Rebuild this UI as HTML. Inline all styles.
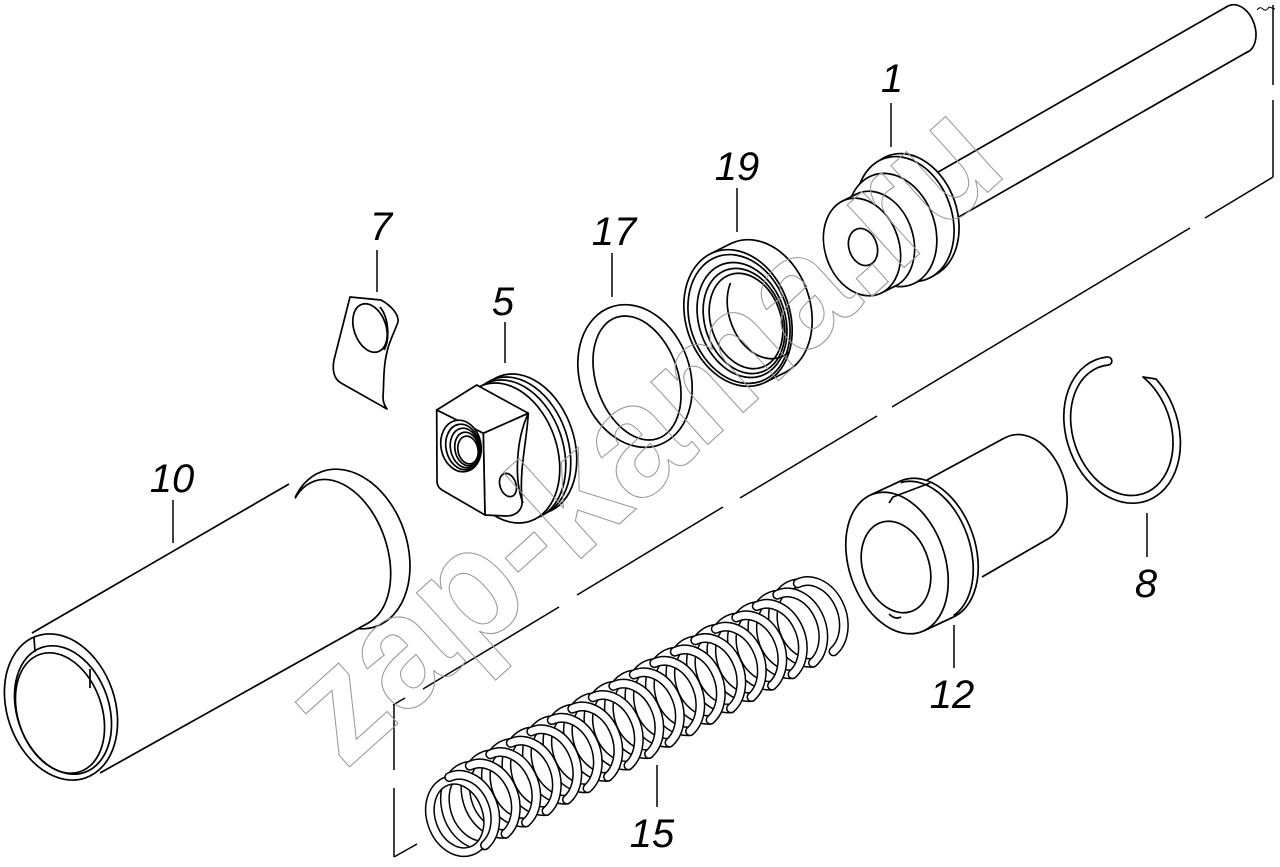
<!DOCTYPE html>
<html><head><meta charset="utf-8">
<style>
html,body{margin:0;padding:0;background:#fff;}
svg{display:block}
.lb{font-family:"Liberation Sans",sans-serif;font-style:italic;font-size:40px;fill:#000;text-anchor:middle}
</style></head><body>
<svg width="1280" height="867" viewBox="0 0 1280 867" xmlns="http://www.w3.org/2000/svg" xmlns:xlink="http://www.w3.org/1999/xlink">
<defs>
<clipPath id="bore19"><ellipse cx="746" cy="321" rx="35" ry="49" transform="rotate(-19 746 321)"/></clipPath>
</defs>
<rect width="1280" height="867" fill="#fff"/>

<!-- chain (axis) line -->
<g fill="none" stroke="#000" stroke-width="1.5">
<line x1="1273" y1="5" x2="1273" y2="85"/>
<line x1="1273" y1="100" x2="1273" y2="177"/>
<line x1="1273" y1="177" x2="1205" y2="218"/>
<line x1="1190" y1="228" x2="892" y2="407"/>
<line x1="877" y1="416" x2="740" y2="498"/>
<line x1="723" y1="507" x2="577" y2="595"/>
<line x1="559" y1="607" x2="423" y2="689"/>
<line x1="405" y1="698" x2="393" y2="705"/>
<line x1="394" y1="705" x2="394" y2="770"/>
<line x1="394" y1="788" x2="394" y2="857"/>
<line x1="394" y1="857" x2="417" y2="844"/>
<path d="M1257,10 q3,-4 6,-1 q3,3 6,-2 l6,2" stroke-width="1"/>
</g>

<!-- leaders -->
<g stroke="#000" stroke-width="1.5">
<line x1="891" y1="103" x2="891" y2="147"/>
<line x1="737" y1="188" x2="737" y2="232"/>
<line x1="612" y1="253" x2="612" y2="297"/>
<line x1="377" y1="250" x2="377" y2="292"/>
<line x1="505" y1="322" x2="505" y2="363"/>
<line x1="173" y1="500" x2="173" y2="543"/>
<line x1="1147" y1="513" x2="1147" y2="557"/>
<line x1="954" y1="625" x2="954" y2="668"/>
<line x1="657" y1="765" x2="657" y2="807"/>
</g>

<g stroke="#000" stroke-width="1.7" stroke-linejoin="round" fill="none">

<!-- PART 1: rod + piston -->
<ellipse cx="1238" cy="29" rx="17" ry="25" transform="rotate(-19 1238 29)" fill="#fff"/>
<polygon points="933,175 1228,6 1249,51 957,218" fill="#fff" stroke="none"/>
<line x1="933" y1="175" x2="1228" y2="6"/>
<line x1="957" y1="218" x2="1249" y2="51"/>
<ellipse cx="910" cy="216" rx="47" ry="64" transform="rotate(-19 910 216)" fill="#fff"/>
<ellipse cx="905" cy="219" rx="47" ry="64" transform="rotate(-19 905 219)" fill="#fff"/>
<ellipse cx="892" cy="230" rx="43" ry="58" transform="rotate(-19 892 230)" fill="#fff"/>
<ellipse cx="876" cy="240" rx="37" ry="50" transform="rotate(-19 876 240)" fill="#fff"/>
<polygon points="842.4,201.1 856.4,194.1 895.6,285.9 881.6,292.9" fill="#fff" stroke="none"/>
<line x1="842.4" y1="201.1" x2="856.4" y2="194.1"/>
<line x1="881.6" y1="292.9" x2="895.6" y2="285.9"/>
<ellipse cx="862" cy="247" rx="37" ry="50" transform="rotate(-19 862 247)" fill="#fff"/>
<ellipse cx="863" cy="247" rx="14" ry="19" transform="rotate(-19 863 247)" fill="#fff"/>

<!-- PART 19 -->
<ellipse cx="758" cy="308" rx="52" ry="70" transform="rotate(-19 758 308)" fill="#fff"/>
<polygon points="710.5,253.8 730.5,243.8 785.5,372.2 765.5,382.2" fill="#fff" stroke="none"/>
<line x1="710.5" y1="253.8" x2="730.5" y2="243.8"/>
<line x1="765.5" y1="382.2" x2="785.5" y2="372.2"/>
<ellipse cx="738" cy="318" rx="52" ry="70" transform="rotate(-19 738 318)" fill="#fff"/>
<ellipse cx="739" cy="319" rx="49" ry="66" transform="rotate(-19 739 319)"/>
<ellipse cx="742" cy="320" rx="43" ry="59" transform="rotate(-19 742 320)"/>
<ellipse cx="744" cy="321" rx="39" ry="54" transform="rotate(-19 744 321)"/>
<ellipse cx="746" cy="321" rx="35" ry="49" transform="rotate(-19 746 321)"/>
<ellipse cx="764" cy="311" rx="35" ry="49" transform="rotate(-19 764 311)" clip-path="url(#bore19)"/>

<!-- PART 17 -->
<ellipse cx="635" cy="376" rx="55" ry="73" transform="rotate(-19 635 376)"/>
<ellipse cx="637" cy="378" rx="41" ry="64" transform="rotate(-19 637 378)"/>

<!-- PART 5 -->
<ellipse cx="524" cy="444" rx="50" ry="72" transform="rotate(-19 524 444)" fill="#fff"/>
<ellipse cx="518" cy="447" rx="50" ry="72" transform="rotate(-19 518 447)" fill="#fff"/>
<ellipse cx="513" cy="450" rx="50" ry="72" transform="rotate(-19 513 450)" fill="#fff"/>
<ellipse cx="507" cy="453" rx="50" ry="72" transform="rotate(-19 507 453)" fill="#fff"/>
<polygon points="436.7,410 476.7,385 528.3,413.3 483.3,433.3" fill="#fff"/>
<path d="M483.3,433.3 L528.3,413.3 C527,440 519,470 522,500 C523,510 516,516 506,516 L485,515 Z" fill="#fff"/>
<path d="M528,414 C516,440 514,480 523,503"/>
<path d="M436.7,410 L483.3,433.3 L485,515 L442,490 Q437,487 437,481 Z" fill="#fff"/>
<ellipse cx="461" cy="446" rx="20" ry="26" transform="rotate(-12 461 446)" fill="#fff"/>
<ellipse cx="463" cy="447" rx="17" ry="23" transform="rotate(-12 463 447)"/>
<ellipse cx="465" cy="448" rx="14.5" ry="20" transform="rotate(-12 465 448)"/>
<ellipse cx="467" cy="449" rx="12" ry="17" transform="rotate(-12 467 449)"/>
<ellipse cx="468" cy="450" rx="10" ry="14" transform="rotate(-12 468 450)"/>
<ellipse cx="508" cy="485" rx="8" ry="12" transform="rotate(-19 508 485)" fill="#fff"/>

<!-- PART 7 -->
<path d="M350,297 L381,300 C392,306 399,315 398,322 C394,333 389,342 387,352 C383,368 384,385 383,397 C383,403 385,406 387,409 L341,383 C334,379 332,370 334,360 Z" fill="#fff"/>
<ellipse cx="370" cy="328" rx="16" ry="25" transform="rotate(-19 370 328)"/>
<path d="M380,307 C389,318 390,340 384,350"/>

<!-- PART 10 -->
<ellipse cx="349" cy="549" rx="58" ry="82" transform="rotate(-19 349 549)" fill="#fff"/>
<ellipse cx="339" cy="553" rx="48" ry="76" transform="rotate(-19 339 553)" fill="#fff"/>
<polygon points="32,633 287,485 370,622 100,773" fill="#fff" stroke="none"/>
<line x1="32" y1="633" x2="289" y2="484"/>
<line x1="100" y1="773" x2="370" y2="622"/>
<ellipse cx="61" cy="707" rx="54" ry="75" transform="rotate(-19 61 707)" fill="#fff"/>
<ellipse cx="63" cy="710" rx="46" ry="66" transform="rotate(-19 63 710)"/>
<ellipse cx="60" cy="713" rx="42" ry="62" transform="rotate(-19 60 713)"/>
<line x1="34" y1="637" x2="35" y2="652"/>
<line x1="90" y1="669" x2="90" y2="688"/>

<!-- PART 12 -->
<ellipse cx="1027" cy="488" rx="38" ry="55" transform="rotate(-19 1027 488)" fill="#fff"/>
<polygon points="927,480 1004.7,437.9 1049.3,538.1 982,577" fill="#fff" stroke="none"/>
<line x1="927" y1="480" x2="1004.7" y2="437.9"/>
<line x1="982" y1="577" x2="1049.3" y2="538.1"/>
<ellipse cx="927" cy="549" rx="48" ry="73" transform="rotate(-19 927 549)" fill="#fff"/>
<ellipse cx="923" cy="551" rx="47" ry="72" transform="rotate(-19 923 551)"/>
<polygon points="870.1,495.2 900.1,481.2 953.9,616.8 923.9,630.8" fill="#fff" stroke="none"/>
<line x1="870.1" y1="495.2" x2="900.1" y2="481.2"/>
<line x1="923.9" y1="630.8" x2="953.9" y2="616.8"/>
<ellipse cx="897" cy="563" rx="48" ry="73" transform="rotate(-19 897 563)" fill="#fff"/>
<ellipse cx="896" cy="567" rx="33" ry="47" transform="rotate(-19 896 567)" fill="#fff"/>
<path d="M889,503 L893,497 L930,483"/>
<path d="M889,614 q6,6 12,3"/>

<!-- PART 8 -->
<path d="M1156,379 A56,75 -19 1 1 1107,357 A4,4 0 0 1 1108.5,365 A49,67 -19 1 0 1143,377 Z"/>
</g>

<!-- PART 15 spring (helix: back halves, then front halves) -->
<g fill="none" stroke-linecap="round">
<path stroke="#000" stroke-width="10" d="M485,845.2 A30,39 -19 0 1 469.8,765.7 M505.5,833.8 A30,39 -19 0 1 490.3,754.3 M526,822.4 A30,39 -19 0 1 510.8,742.9 M546.5,811 A30,39 -19 0 1 531.3,731.5 M567,799.6 A30,39 -19 0 1 551.8,720.1 M587.5,788.2 A30,39 -19 0 1 572.3,708.7 M608,776.8 A30,39 -19 0 1 592.8,697.3 M628.5,765.4 A30,39 -19 0 1 613.3,685.9 M649,754 A30,39 -19 0 1 633.8,674.5 M669.5,742.6 A30,39 -19 0 1 654.3,663.1 M690,731.2 A30,39 -19 0 1 674.8,651.7 M710.5,719.8 A30,39 -19 0 1 695.3,640.3 M731,708.4 A30,39 -19 0 1 715.8,628.9 M751.5,697 A30,39 -19 0 1 736.3,617.5 M772,685.6 A30,39 -19 0 1 756.8,606.1 M792.5,674.2 A30,39 -19 0 1 777.3,594.7 M813,662.8 A30,39 -19 0 1 797.8,583.3"/>
<path stroke="#fff" stroke-width="7" d="M485,845.2 A30,39 -19 0 1 469.8,765.7 M505.5,833.8 A30,39 -19 0 1 490.3,754.3 M526,822.4 A30,39 -19 0 1 510.8,742.9 M546.5,811 A30,39 -19 0 1 531.3,731.5 M567,799.6 A30,39 -19 0 1 551.8,720.1 M587.5,788.2 A30,39 -19 0 1 572.3,708.7 M608,776.8 A30,39 -19 0 1 592.8,697.3 M628.5,765.4 A30,39 -19 0 1 613.3,685.9 M649,754 A30,39 -19 0 1 633.8,674.5 M669.5,742.6 A30,39 -19 0 1 654.3,663.1 M690,731.2 A30,39 -19 0 1 674.8,651.7 M710.5,719.8 A30,39 -19 0 1 695.3,640.3 M731,708.4 A30,39 -19 0 1 715.8,628.9 M751.5,697 A30,39 -19 0 1 736.3,617.5 M772,685.6 A30,39 -19 0 1 756.8,606.1 M792.5,674.2 A30,39 -19 0 1 777.3,594.7 M813,662.8 A30,39 -19 0 1 797.8,583.3"/>
<ellipse cx="459" cy="816" rx="28" ry="37" transform="rotate(-19 459 816)" stroke="#000" stroke-width="10"/>
<ellipse cx="459" cy="816" rx="28" ry="37" transform="rotate(-19 459 816)" stroke="#fff" stroke-width="7"/>
<path stroke="#000" stroke-width="10" d="M449.3,777.1 A30,39 -19 0 1 485,845.2 M469.8,765.7 A30,39 -19 0 1 505.5,833.8 M490.3,754.3 A30,39 -19 0 1 526,822.4 M510.8,742.9 A30,39 -19 0 1 546.5,811 M531.3,731.5 A30,39 -19 0 1 567,799.6 M551.8,720.1 A30,39 -19 0 1 587.5,788.2 M572.3,708.7 A30,39 -19 0 1 608,776.8 M592.8,697.3 A30,39 -19 0 1 628.5,765.4 M613.3,685.9 A30,39 -19 0 1 649,754 M633.8,674.5 A30,39 -19 0 1 669.5,742.6 M654.3,663.1 A30,39 -19 0 1 690,731.2 M674.8,651.7 A30,39 -19 0 1 710.5,719.8 M695.3,640.3 A30,39 -19 0 1 731,708.4 M715.8,628.9 A30,39 -19 0 1 751.5,697 M736.3,617.5 A30,39 -19 0 1 772,685.6 M756.8,606.1 A30,39 -19 0 1 792.5,674.2 M777.3,594.7 A30,39 -19 0 1 813,662.8 M797.8,583.3 A30,39 -19 0 1 833.5,651.4"/>
<path stroke="#fff" stroke-width="7" d="M449.3,777.1 A30,39 -19 0 1 485,845.2 M469.8,765.7 A30,39 -19 0 1 505.5,833.8 M490.3,754.3 A30,39 -19 0 1 526,822.4 M510.8,742.9 A30,39 -19 0 1 546.5,811 M531.3,731.5 A30,39 -19 0 1 567,799.6 M551.8,720.1 A30,39 -19 0 1 587.5,788.2 M572.3,708.7 A30,39 -19 0 1 608,776.8 M592.8,697.3 A30,39 -19 0 1 628.5,765.4 M613.3,685.9 A30,39 -19 0 1 649,754 M633.8,674.5 A30,39 -19 0 1 669.5,742.6 M654.3,663.1 A30,39 -19 0 1 690,731.2 M674.8,651.7 A30,39 -19 0 1 710.5,719.8 M695.3,640.3 A30,39 -19 0 1 731,708.4 M715.8,628.9 A30,39 -19 0 1 751.5,697 M736.3,617.5 A30,39 -19 0 1 772,685.6 M756.8,606.1 A30,39 -19 0 1 792.5,674.2 M777.3,594.7 A30,39 -19 0 1 813,662.8 M797.8,583.3 A30,39 -19 0 1 833.5,651.4"/>
</g>

<!-- labels -->
<text class="lb" x="892" y="92">1</text>
<text class="lb" x="737" y="180">19</text>
<text class="lb" x="614" y="245">17</text>
<text class="lb" x="381" y="240">7</text>
<text class="lb" x="503" y="315">5</text>
<text class="lb" x="172" y="492">10</text>
<text class="lb" x="1146" y="597">8</text>
<text class="lb" x="952" y="708">12</text>
<text class="lb" x="652" y="847">15</text>

<!-- watermark -->
<text x="0" y="0" transform="translate(345,771) rotate(-42)" font-family="Liberation Sans, sans-serif" font-weight="bold" font-size="160" textLength="895" lengthAdjust="spacingAndGlyphs" fill="none" stroke="#9a9a9a" stroke-width="1.1">zap-kama.ru</text>
</svg>
</body></html>
